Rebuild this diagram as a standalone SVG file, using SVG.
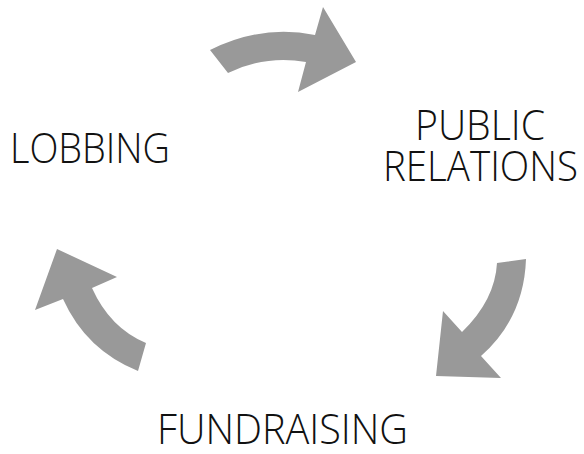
<svg xmlns="http://www.w3.org/2000/svg" width="584" height="454" viewBox="0 0 584 454">
<style>
.lbl{font-family:"Open Sans","Noto Sans","Liberation Sans",sans-serif;font-weight:300;font-size:42px;fill:#111;}
.arr{fill:#999999;}
</style>
<rect width="584" height="454" fill="#ffffff"/>
<g id="connectors">
<path class="arr" d="M210,50 Q262,24 315,35 L323,7 L356,62 L298,92 L306,62 Q265,55 228,73 Z"/>
<path class="arr" d="M526,259 Q524,318 481,356 L501,378 L436,376 L443,311 L462,332 Q495,300 497,263 Z"/>
<path class="arr" d="M138,371 Q86,350 63,299 L35,310 L57,249 L117,277 L92,288 Q110,328 146,343 Z"/>
</g>
<g id="lobbing"><text class="lbl" x="10" y="163" textLength="160" lengthAdjust="spacingAndGlyphs">LOBBING</text></g>
<g id="public-relations">
<text class="lbl" x="415" y="140" textLength="130" lengthAdjust="spacingAndGlyphs">PUBLIC</text>
<text class="lbl" x="383" y="181" textLength="195" lengthAdjust="spacingAndGlyphs">RELATIONS</text>
</g>
<g id="fundraising"><text class="lbl" x="157" y="444" textLength="251" lengthAdjust="spacingAndGlyphs">FUNDRAISING</text></g>
</svg>
